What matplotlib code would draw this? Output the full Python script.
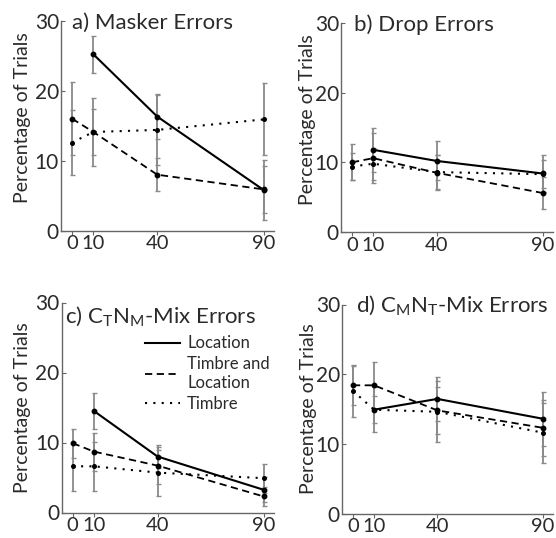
import matplotlib
matplotlib.use("Agg")
import matplotlib.pyplot as plt
from matplotlib.lines import Line2D

plt.rcParams['font.family'] = ['Lato', 'DejaVu Sans']
plt.rcParams['mathtext.default'] = 'regular'

# ---- data ----
x_all = [0, 10, 40, 90]
x_loc = [10, 40, 90]
xtick_labels = ['0', '10', '40', '90']
yticks = [0, 10, 20, 30]

titles = ['a) Masker Errors', 'b) Drop Errors',
          r'c) C$_{T}$N$_{M}$-Mix Errors', r'd) C$_{M}$N$_{T}$-Mix Errors']
series_names = ['Location', 'Timbre and\nLocation', 'Timbre']

# panel a
a_loc = [25.2, 16.3, 5.8];        a_loc_err = [2.65, 3.2, 4.25]
a_tl = [16.0, 14.1, 8.0, 5.9];    a_tl_err = [5.25, 4.9, 2.35, 3.3]
a_tim = [12.6, 14.1, 14.4, 15.9]; a_tim_err = [4.65, 3.3, 5.05, 5.15]
# panel b
b_loc = [11.8, 10.2, 8.4];        b_loc_err = [3.2, 2.8, 2.7]
b_tl = [10.0, 10.6, 8.5, 5.6];    b_tl_err = [2.6, 3.6, 2.5, 2.3]
b_tim = [9.4, 9.8, 8.6, 8.3];     b_tim_err = [1.9, 2.3, 2.4, 2.0]
# panel c
c_loc = [14.5, 8.0, 3.25];        c_loc_err = [2.6, 1.6, 1.8]
c_tl = [9.9, 8.7, 6.7, 2.3];      c_tl_err = [2.1, 2.7, 2.6, 1.4]
c_tim = [6.6, 6.6, 5.7, 4.9];     c_tim_err = [3.5, 3.5, 3.3, 2.1]
# panel d
d_loc = [14.9, 16.45, 13.6];      d_loc_err = [3.2, 3.2, 3.9]
d_tl = [18.4, 18.4, 14.8, 12.3];  d_tl_err = [2.8, 3.4, 3.4, 4.0]
d_tim = [17.6, 14.9, 14.6, 11.6]; d_tim_err = [3.7, 1.9, 4.4, 4.3]

panels = [
    (a_loc, a_loc_err, a_tl, a_tl_err, a_tim, a_tim_err),
    (b_loc, b_loc_err, b_tl, b_tl_err, b_tim, b_tim_err),
    (c_loc, c_loc_err, c_tl, c_tl_err, c_tim, c_tim_err),
    (d_loc, d_loc_err, d_tl, d_tl_err, d_tim, d_tim_err),
]

W, H = 556, 538
fig = plt.figure(figsize=(W / 100, H / 100), dpi=100)

rects = [
    (61 / W, 1 - 230.7 / H, 213 / W, 210 / H),
    (341 / W, 1 - 232 / H, 211.7 / W, 209 / H),
    (61.7 / W, 1 - 512.5 / H, 212 / W, 210 / H),
    (342 / W, 1 - 513.5 / H, 211 / W, 209 / H),
]
title_pos = [(0.052, 0.99), (0.061, 0.99), (0.016, 0.935), (0.066, 0.995)]
ylab_pos = [(-0.183, 0.537), (-0.156, 0.537), (-0.183, 0.50), (-0.161, 0.50)]

errc = '#8a8a8a'
textc = '#2a2a2a'

for i, (rect, data) in enumerate(zip(rects, panels)):
    loc, loc_e, tl, tl_e, tim, tim_e = data
    ax = fig.add_axes(rect)
    ekw = dict(fmt='none', ecolor=errc, elinewidth=1.3, capsize=1.8, capthick=1.0, zorder=1)
    ax.errorbar(x_loc, loc, yerr=loc_e, **ekw)
    ax.errorbar(x_all, tl, yerr=tl_e, **ekw)
    ax.errorbar(x_all, tim, yerr=tim_e, **ekw)
    ax.plot(x_loc, loc, '-', color='black', lw=1.5, marker='o', ms=3.2, zorder=3)
    ax.plot(x_all, tl, '--', color='black', lw=1.3, marker='o', ms=3.2, zorder=3,
            dashes=(4, 2.5))
    ax.plot(x_all, tim, ':', color='black', lw=1.5, marker='o', ms=2.6, zorder=3,
            dashes=(1, 3))
    ax.set_xlim(-5.2, 94.8)
    ax.set_ylim(0, 30)
    ax.set_xticks(x_all)
    ax.set_xticklabels(xtick_labels)
    ax.set_yticks(yticks)
    for s in ['top', 'right']:
        ax.spines[s].set_visible(False)
    for s in ['left', 'bottom']:
        ax.spines[s].set_color('#666666')
        ax.spines[s].set_linewidth(1.0)
    ax.tick_params(axis='x', direction='out', length=3, width=0.8, color='#666666',
                   labelsize=14.5, labelcolor=textc, pad=0.4)
    ax.tick_params(axis='y', direction='in', length=3, width=0.8, color='#666666',
                   labelsize=15, labelcolor=textc, pad=1.5)
    ax.patch.set_alpha(0)
    tx, ty = title_pos[i]
    ax.text(tx, ty, titles[i], transform=ax.transAxes, ha='left', va='center',
            fontsize=16, color=textc)
    lx, ly = ylab_pos[i]
    ax.text(lx, ly, 'Percentage of Trials', transform=ax.transAxes, rotation=90,
            ha='center', va='center', fontsize=14, color=textc)
    if i == 2:
        handles = [Line2D([], [], color='black', lw=1.5, ls='-'),
                   Line2D([], [], color='black', lw=1.3, ls='--', dashes=(4, 2.5)),
                   Line2D([], [], color='black', lw=1.5, ls=':', dashes=(1, 3))]
        leg = ax.legend(handles, series_names, loc='upper left',
                        bbox_to_anchor=(0.36, 0.875), frameon=False, fontsize=12,
                        handlelength=2.1, handletextpad=0.45, labelspacing=0.3,
                        borderaxespad=0)
        for t in leg.get_texts():
            t.set_color(textc)

fig.savefig('out.png', dpi=100)
